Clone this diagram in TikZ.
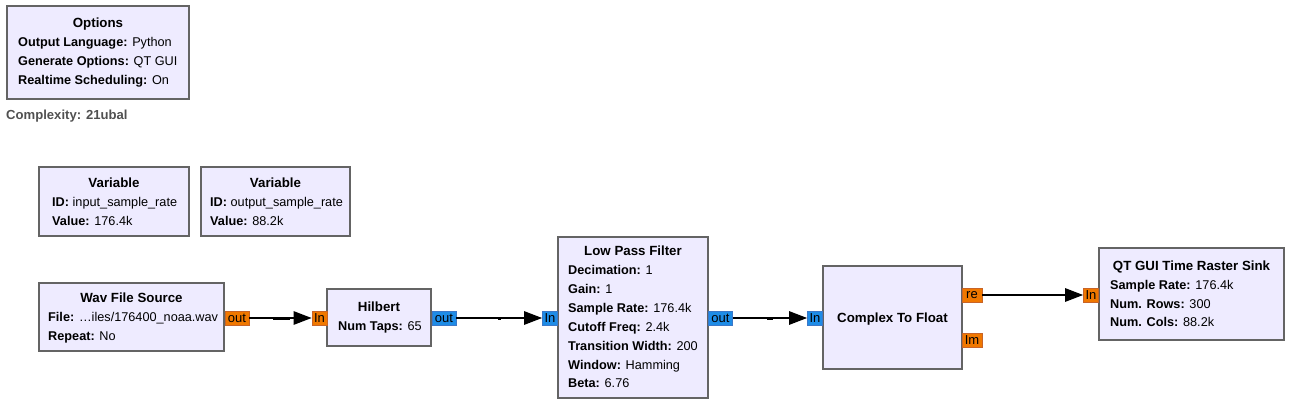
\documentclass[tikz,border=0pt]{standalone}
\usepackage{fontspec}
\setmainfont{Liberation Sans}
\usetikzlibrary{arrows.meta,calc}
\definecolor{boxfill}{RGB}{238,235,255}
\definecolor{boxline}{RGB}{100,100,100}
\definecolor{porto}{RGB}{240,120,0}
\definecolor{portoline}{RGB}{200,100,40}
\definecolor{portb}{RGB}{30,140,230}
\definecolor{portbline}{RGB}{60,120,200}
\definecolor{cplx}{RGB}{80,80,80}
\tikzset{
  blk/.style={draw=boxline, fill=boxfill, line width=1.6pt, inner sep=0pt},
  ttl/.style={anchor=mid, inner sep=0pt, yshift=-1.5pt, font=\fontsize{13.3}{15}\selectfont\bfseries},
  prm/.style={anchor=mid west, inner sep=0pt, yshift=-1.5pt, font=\fontsize{12.7}{15}\selectfont},
  oport/.style={draw=portoline, fill=porto, line width=0.8pt, inner sep=0pt, minimum height=14pt, font=\fontsize{13}{14}\selectfont},
  bport/.style={draw=portbline, fill=portb, line width=0.8pt, inner sep=0pt, minimum height=14pt, font=\fontsize{13}{14}\selectfont},
  conn/.style={line width=1.3pt, -{Triangle[length=18pt,width=13.5pt]}},
  stub/.style={line width=3pt},
}
\begin{document}
\begin{tikzpicture}[x=1pt,y=-1pt]
\useasboundingbox (0,0) rectangle (1292,414);
% Options
\node[blk, minimum width=182, minimum height=93] (opt) at (98,52.5) {};
\node[ttl] (optt) at (98,23) {Options};
\node[prm] (opt1) at (18,42) {\textbf{Output Language:} Python};
\node[prm] (opt2) at (18,61) {\textbf{Generate Options:} QT GUI};
\node[prm] (opt3) at (18,80) {\textbf{Realtime Scheduling:} On};
\node[prm, text=cplx, font=\fontsize{13.1}{15}\selectfont\bfseries] (cx) at (6,115) {Complexity: 21ubal};
% Variables
\node[blk, minimum width=150, minimum height=69] (var1) at (114,201.5) {};
\node[ttl] (var1t) at (114,183) {Variable};
\node[prm] (var1a) at (52,202) {\textbf{ID:} input\_sample\_rate};
\node[prm] (var1b) at (52,221) {\textbf{Value:} 176.4k};
\node[blk, minimum width=149, minimum height=69] (var2) at (275.5,201.5) {};
\node[ttl] (var2t) at (275.5,183) {Variable};
\node[prm] (var2a) at (210,202) {\textbf{ID:} output\_sample\_rate};
\node[prm] (var2b) at (210,221) {\textbf{Value:} 88.2k};
% Wav File Source
\node[blk, minimum width=185, minimum height=68] (wav) at (131.5,317) {};
\node[ttl] (wavt) at (131.5,298) {Wav File Source};
\node[prm] (wav1) at (48,317) {\textbf{File:} \ldots iles/176400\_noaa.wav};
\node[prm] (wav2) at (48,336) {\textbf{Repeat:} No};
\node[oport, minimum width=24] (wavout) at (237,318) {out};
% Hilbert
\node[blk, minimum width=104, minimum height=57] (hil) at (379,317.5) {};
\node[ttl] (hilt) at (379,307) {Hilbert};
\node[prm] (hil1) at (338,326) {\textbf{Num Taps:} 65};
\node[oport, minimum width=15] (hilin) at (319.5,318) {In};
\node[bport, minimum width=24] (hilout) at (444,318) {out};
% Low Pass Filter
\node[blk, minimum width=150, minimum height=161] (lpf) at (633,317.5) {};
\node[ttl] (lpft) at (633,251) {Low Pass Filter};
\node[prm] (lpf1) at (568,270) {\textbf{Decimation:} 1};
\node[prm] (lpf2) at (568,289) {\textbf{Gain:} 1};
\node[prm] (lpf3) at (568,308) {\textbf{Sample Rate:} 176.4k};
\node[prm] (lpf4) at (568,327) {\textbf{Cutoff Freq:} 2.4k};
\node[prm] (lpf5) at (568,346) {\textbf{Transition Width:} 200};
\node[prm] (lpf6) at (568,365) {\textbf{Window:} Hamming};
\node[prm] (lpf7) at (568,383) {\textbf{Beta:} 6.76};
\node[bport, minimum width=15] (lpfin) at (550,318) {In};
\node[bport, minimum width=24] (lpfout) at (720.5,318) {out};
% Complex To Float
\node[blk, minimum width=139, minimum height=103] (ctf) at (892.5,317.5) {};
\node[ttl] (ctft) at (892.5,318) {Complex To Float};
\node[bport, minimum width=15] (ctfin) at (815,318) {In};
\node[oport, minimum width=20] (ctfre) at (972,295) {re};
\node[oport, minimum width=20] (ctfim) at (972,340.5) {Im};
% QT GUI Time Raster Sink
\node[blk, minimum width=185, minimum height=92] (qt) at (1191.5,294) {};
\node[ttl] (qtt) at (1191.5,266) {QT GUI Time Raster Sink};
\node[prm] (qt1) at (1110,285) {\textbf{Sample Rate:} 176.4k};
\node[prm] (qt2) at (1110,304) {\textbf{Num. Rows:} 300};
\node[prm] (qt3) at (1110,322) {\textbf{Num. Cols:} 88.2k};
\node[oport, minimum width=15] (qtin) at (1091,295) {In};
% Connections
\draw[conn] (wavout.east) -- (hilin.west);
\draw[stub] ($(wavout.east)!0.38!(hilin.west)$) -- ($(wavout.east)!0.65!(hilin.west)$);
\draw[conn] (hilout.east) -- (lpfin.west);
\draw[stub] ($(hilout.east)!0.49!(lpfin.west)$) -- ($(hilout.east)!0.52!(lpfin.west)$);
\draw[conn] (lpfout.east) -- (ctfin.west);
\draw[stub] ($(lpfout.east)!0.46!(ctfin.west)$) -- ($(lpfout.east)!0.54!(ctfin.west)$);
\draw[conn] (ctfre.east) -- (qtin.west);
\end{tikzpicture}
\end{document}
